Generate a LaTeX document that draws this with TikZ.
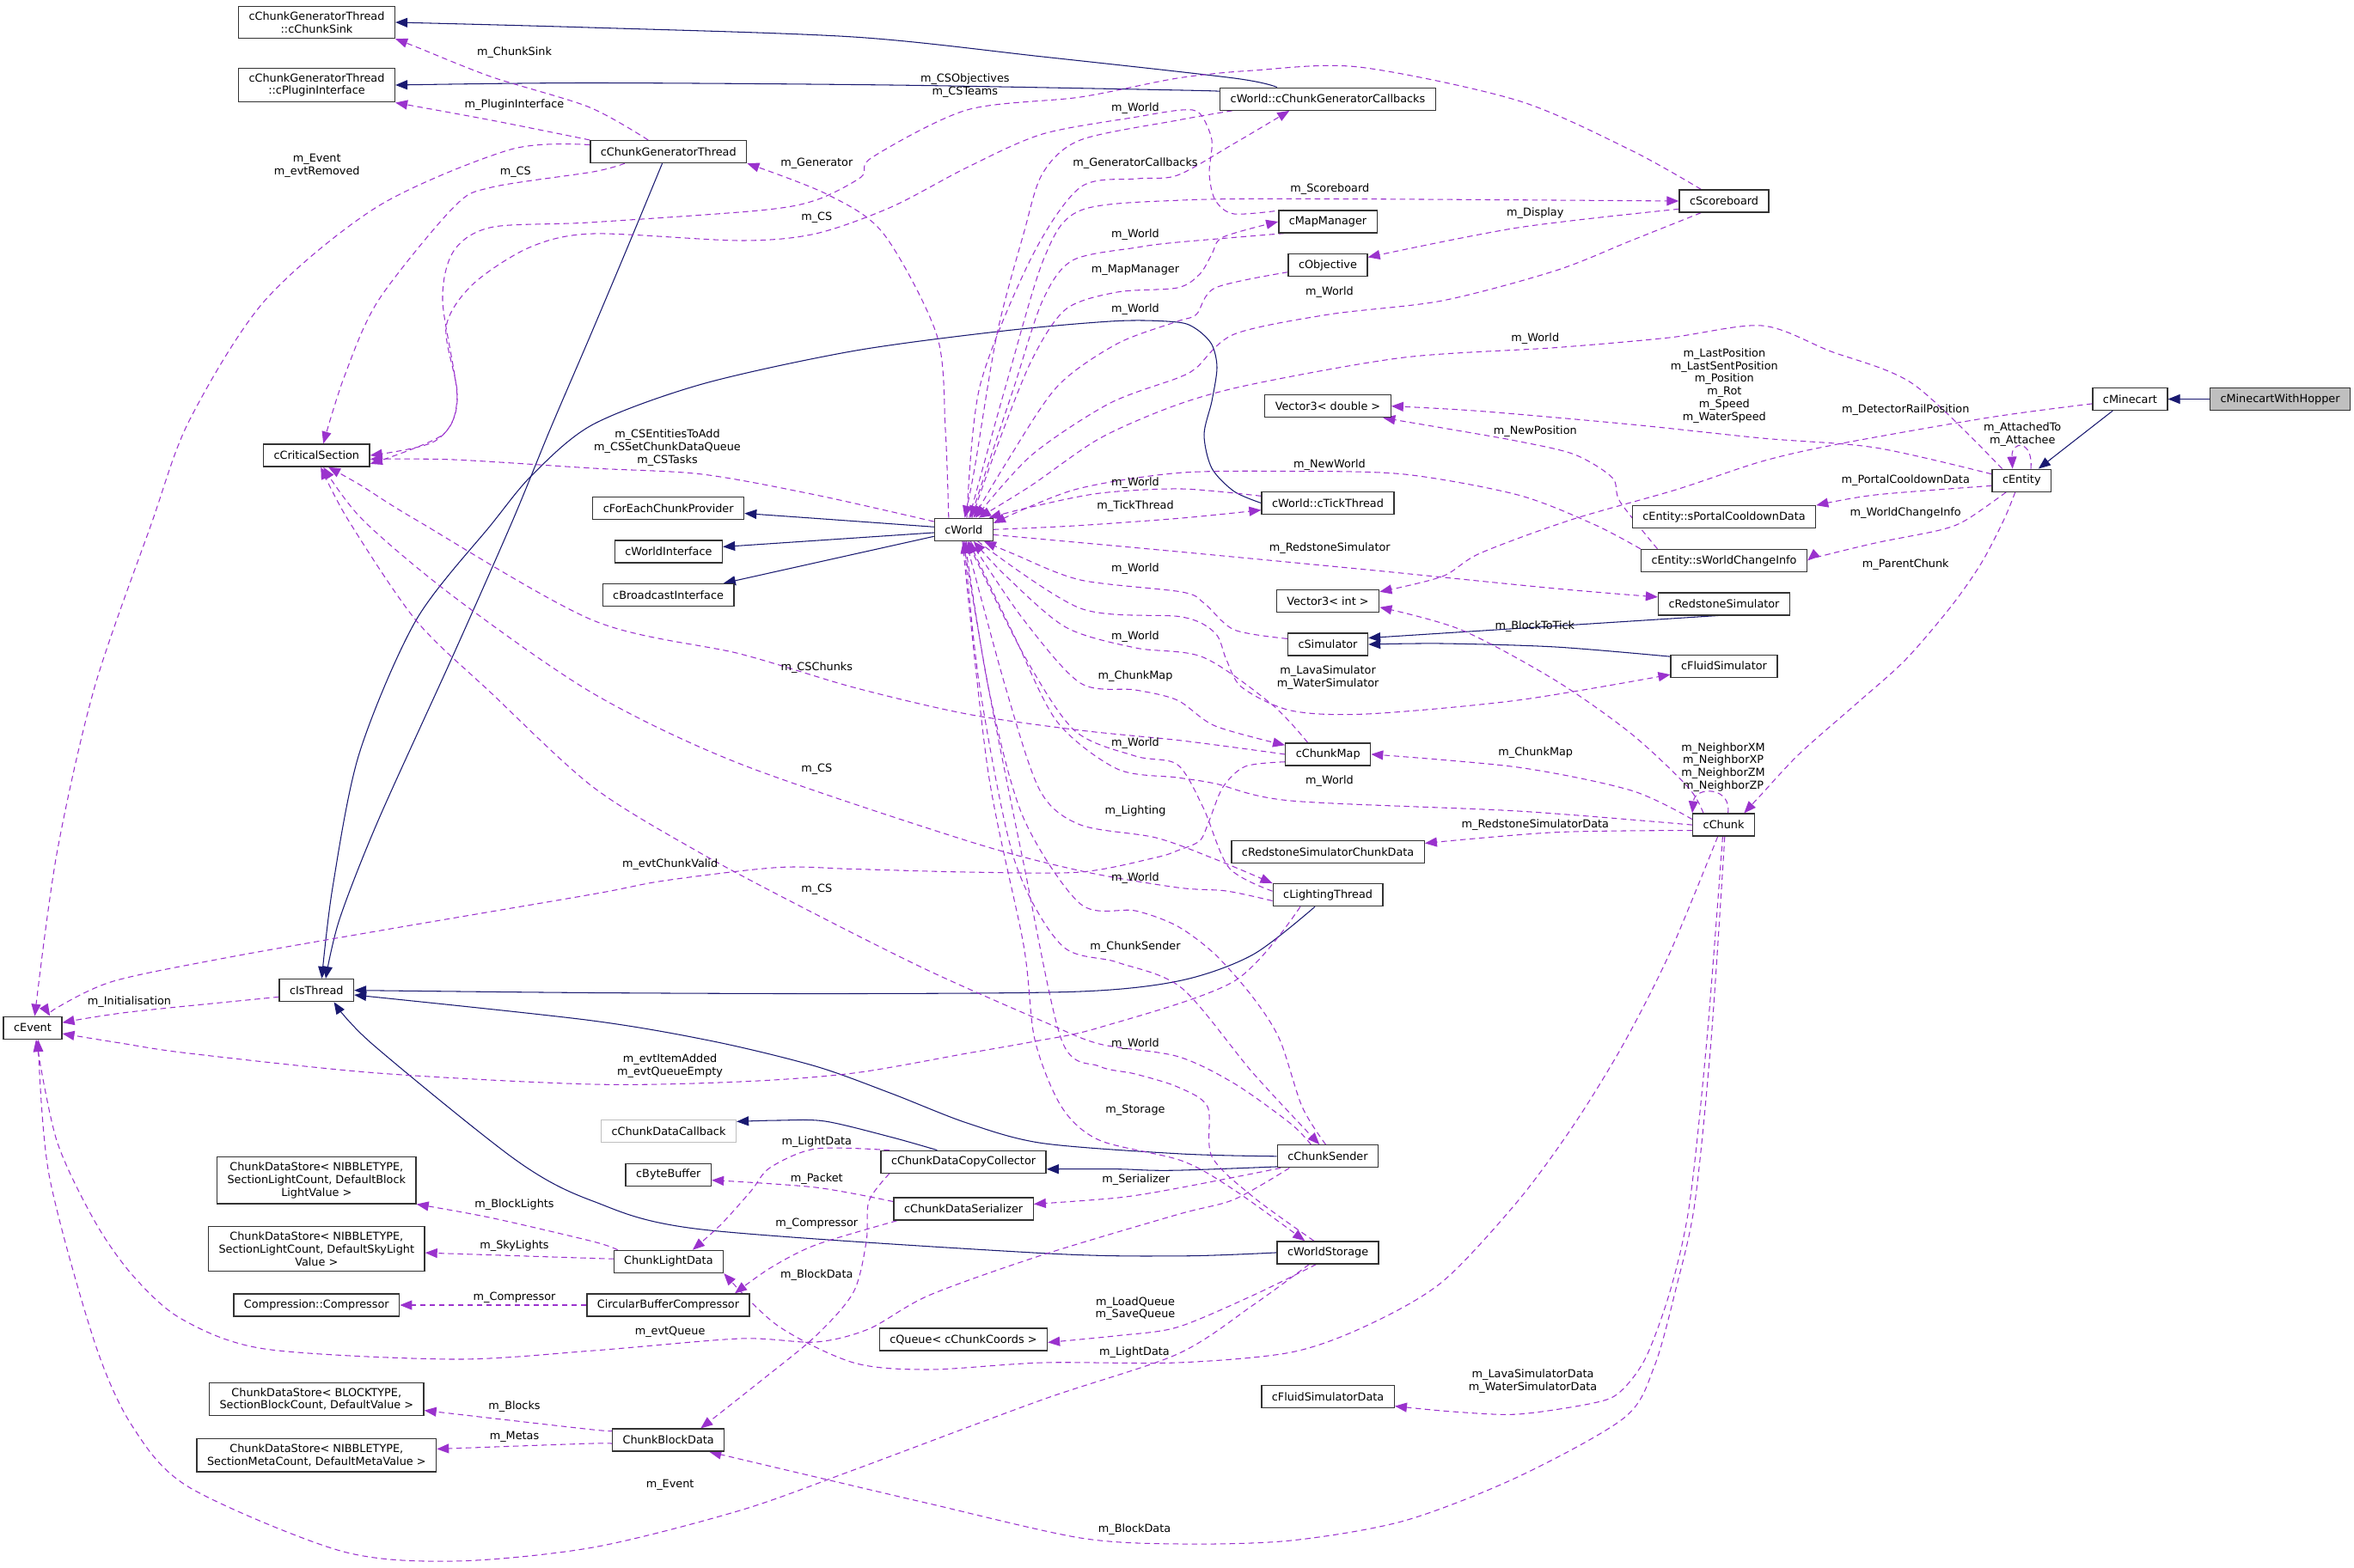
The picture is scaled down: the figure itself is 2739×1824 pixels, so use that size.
\documentclass[tikz,border=0pt]{standalone}
\usepackage{fontspec}
\setmainfont{DejaVu Sans}
\usepackage{tikz}
\usetikzlibrary{arrows.meta, backgrounds}
\definecolor{inheritline}{HTML}{191970}
\definecolor{memberline}{HTML}{9A32CD}
\definecolor{boxline}{HTML}{333333}
\definecolor{focusgray}{HTML}{BFBFBF}
\definecolor{faintline}{HTML}{BFBFBF}
\tikzset{
  cls/.style={
    rectangle, draw=boxline, line width=0.75pt, fill=white,
    align=center, inner xsep=2.4mm, inner ysep=1.25mm, minimum height=5.2mm,
  },
  focus/.style={cls, fill=focusgray},
  extcls/.style={cls, draw=faintline},
  lbl/.style={align=center, inner sep=0pt},
  inherit/.style={draw=inheritline, line width=0.6pt, -{Triangle[length=2.8mm, width=2.2mm]}},
  member/.style={draw=memberline, line width=0.6pt, dash pattern=on 1.3mm off 0.9mm,
    -{Triangle[length=2.8mm, width=2.2mm]}},
}

\begin{document}
\begin{tikzpicture}[x=0.2mm, y=-0.2mm, font=\fontsize{7.3}{8.4}\selectfont]
  \useasboundingbox (0,0) rectangle (2739,1824);

  % classes
  \node[focus] (hopper) at (2653,464.5) {cMinecartWithHopper};
  \node[cls] (minecart) at (2478.4,464.5) {cMinecart};
  \node[cls] (entity) at (2352.3,559.2) {cEntity};
  \node[cls] (sink) at (368.5,26) {cChunkGeneratorThread\\::cChunkSink};
  \node[cls] (plugin) at (368.5,99) {cChunkGeneratorThread\\::cPluginInterface};
  \node[cls] (critsect) at (368.3,530) {cCriticalSection};
  \node[cls] (genthread) at (777.8,176.6) {cChunkGeneratorThread};
  \node[cls] (foreach) at (777.7,591.3) {cForEachChunkProvider};
  \node[cls] (world) at (1121.3,616.3) {cWorld};
  \node[cls] (worldif) at (777.9,642) {cWorldInterface};
  \node[cls] (broadcast) at (777.6,692.5) {cBroadcastInterface};
  \node[cls] (gencb) at (1545,115.2) {cWorld::cChunkGeneratorCallbacks};
  \node[cls] (scoreboard) at (2006,234) {cScoreboard};
  \node[cls] (mapmgr) at (1545,258) {cMapManager};
  \node[cls] (objective) at (1545,308.5) {cObjective};
  \node[cls] (vecd) at (1545,472.7) {Vector3< double >};
  \node[cls] (tickthread) at (1545,585.5) {cWorld::cTickThread};
  \node[cls] (portal) at (2006,601.8) {cEntity::sPortalCooldownData};
  \node[cls] (changeinfo) at (2006,652.5) {cEntity::sWorldChangeInfo};
  \node[cls] (veci) at (1545,699.4) {Vector3< int >};
  \node[cls] (redstone) at (2006,703) {cRedstoneSimulator};
  \node[cls] (simulator) at (1545,750) {cSimulator};
  \node[cls] (fluid) at (2006,775.2) {cFluidSimulator};
  \node[cls] (chunkmap) at (1545.2,877.9) {cChunkMap};
  \node[cls] (chunk) at (2005.6,960.1) {cChunk};
  \node[cls] (rsdata) at (1545.1,991.3) {cRedstoneSimulatorChunkData};
  \node[cls] (lighting) at (1545.1,1041.7) {cLightingThread};
  \node[cls] (isthread) at (368.3,1152.6) {cIsThread};
  \node[cls] (event) at (38,1196.3) {cEvent};
  \node[extcls] (datacb) at (778,1316.5) {cChunkDataCallback};
  \node[cls] (bytebuf) at (777.8,1367.4) {cByteBuffer};
  \node[cls] (copycoll) at (1121.1,1352.3) {cChunkDataCopyCollector};
  \node[cls] (serializer) at (1121.1,1407.1) {cChunkDataSerializer};
  \node[cls] (lightdata) at (777.9,1468.4) {ChunkLightData};
  \node[cls] (circbuf) at (777.5,1519) {CircularBufferCompressor};
  \node[cls] (queue) at (1120.9,1559) {cQueue< cChunkCoords >};
  \node[cls] (blockdata) at (777.7,1676.1) {ChunkBlockData};
  \node[cls] (storeblocklight) at (368.3,1373.7) {ChunkDataStore< NIBBLETYPE,\\ SectionLightCount, DefaultBlock\\LightValue >};
  \node[cls] (storeskylight) at (368.3,1453.7) {ChunkDataStore< NIBBLETYPE,\\ SectionLightCount, DefaultSkyLight\\Value >};
  \node[cls] (compressor) at (368.3,1519) {Compression::Compressor};
  \node[cls] (storeblocks) at (368.3,1628.4) {ChunkDataStore< BLOCKTYPE,\\ SectionBlockCount, DefaultValue >};
  \node[cls] (storemetas) at (368.3,1693.8) {ChunkDataStore< NIBBLETYPE,\\ SectionMetaCount, DefaultMetaValue >};
  \node[cls] (sender) at (1544.9,1345.8) {cChunkSender};
  \node[cls] (storage) at (1545.1,1457.9) {cWorldStorage};
  \node[cls] (fluiddata) at (1545.1,1625.6) {cFluidSimulatorData};

  % member labels
  \node[lbl] (lChunkSink) at (598.5,61.5) {m\_ChunkSink};
  \node[lbl] (lPluginIf) at (598.5,122.5) {m\_PluginInterface};
  \node[lbl] (lGenEvent) at (368.8,193) {m\_Event\\m\_evtRemoved};
  \node[lbl] (lGenCS) at (599.8,200.3) {m\_CS};
  \node[lbl] (lCSObjectives) at (1122.8,99.6) {m\_CSObjectives\\m\_CSTeams};
  \node[lbl] (lWorldGencb) at (1321,126.4) {m\_World};
  \node[lbl] (lGenerator) at (950.3,190.6) {m\_Generator};
  \node[lbl] (lMapCS) at (950.3,252.9) {m\_CS};
  \node[lbl] (lGenCallbacks) at (1321,190) {m\_GeneratorCallbacks};
  \node[lbl] (lScoreboard) at (1547.3,220.6) {m\_Scoreboard};
  \node[lbl] (lWorldMap) at (1321,273.5) {m\_World};
  \node[lbl] (lMapManager) at (1321,314.3) {m\_MapManager};
  \node[lbl] (lDisplay) at (1786.3,248.2) {m\_Display};
  \node[lbl] (lWorldScore) at (1547,340.4) {m\_World};
  \node[lbl] (lWorldObj) at (1321,360.2) {m\_World};
  \node[lbl] (lWorldEntity) at (1786.3,393.7) {m\_World};
  \node[lbl] (lPositions) at (2006.3,449) {m\_LastPosition\\m\_LastSentPosition\\m\_Position\\m\_Rot\\m\_Speed\\m\_WaterSpeed};
  \node[lbl] (lDetector) at (2217.2,477.3) {m\_DetectorRailPosition};
  \node[lbl] (lAttached) at (2353.2,505.7) {m\_AttachedTo\\m\_Attachee};
  \node[lbl] (lNewPosition) at (1786.3,502.6) {m\_NewPosition};
  \node[lbl] (lWorldCS) at (776.5,521.3) {m\_CSEntitiesToAdd\\m\_CSSetChunkDataQueue\\m\_CSTasks};
  \node[lbl] (lNewWorld) at (1547,540.8) {m\_NewWorld};
  \node[lbl] (lWorldTick) at (1321,562.2) {m\_World};
  \node[lbl] (lPortal) at (2217.2,558.7) {m\_PortalCooldownData};
  \node[lbl] (lTickThread) at (1321,589.4) {m\_TickThread};
  \node[lbl] (lChangeInfo) at (2217.2,597.2) {m\_WorldChangeInfo};
  \node[lbl] (lRedstone) at (1547.3,638.5) {m\_RedstoneSimulator};
  \node[lbl] (lParentChunk) at (2217.2,657.5) {m\_ParentChunk};
  \node[lbl] (lWorldSim) at (1321,662.2) {m\_World};
  \node[lbl] (lBlockToTick) at (1785.8,729.5) {m\_BlockToTick};
  \node[lbl] (lWorldChunkMap) at (1321,741.2) {m\_World};
  \node[lbl] (lCSChunks) at (950.3,777.3) {m\_CSChunks};
  \node[lbl] (lChunkMapW) at (1321,786.7) {m\_ChunkMap};
  \node[lbl] (lFluidSims) at (1545.1,789) {m\_LavaSimulator\\m\_WaterSimulator};
  \node[lbl] (lChunkMapC) at (1786.7,876.5) {m\_ChunkMap};
  \node[lbl] (lWorldLight) at (1321,864.9) {m\_World};
  \node[lbl] (lNeighbors) at (2005,893) {m\_NeighborXM\\m\_NeighborXP\\m\_NeighborZM\\m\_NeighborZP};
  \node[lbl] (lLightCS) at (950.3,894.8) {m\_CS};
  \node[lbl] (lWorldChunk) at (1547,909.2) {m\_World};
  \node[lbl] (lLighting) at (1321,944.6) {m\_Lighting};
  \node[lbl] (lRsData) at (1786.3,960.2) {m\_RedstoneSimulatorData};
  \node[lbl] (lChunkValid) at (779.6,1006.1) {m\_evtChunkValid};
  \node[lbl] (lWorldSender) at (1321,1022.4) {m\_World};
  \node[lbl] (lSenderCS) at (950.3,1034.9) {m\_CS};
  \node[lbl] (lChunkSender) at (1321,1101.8) {m\_ChunkSender};
  \node[lbl] (lInit) at (150.5,1166.4) {m\_Initialisation};
  \node[lbl] (lWorldStorage) at (1321,1214.7) {m\_World};
  \node[lbl] (lItemAdded) at (779.6,1240.9) {m\_evtItemAdded\\m\_evtQueueEmpty};
  \node[lbl] (lStorage) at (1321,1292.6) {m\_Storage};
  \node[lbl] (lLightDataC) at (950.3,1329.4) {m\_LightData};
  \node[lbl] (lPacket) at (950.3,1372.1) {m\_Packet};
  \node[lbl] (lSerializer) at (1321.7,1373.3) {m\_Serializer};
  \node[lbl] (lBlockLights) at (598.5,1402.2) {m\_BlockLights};
  \node[lbl] (lCompressorS) at (950.3,1424.6) {m\_Compressor};
  \node[lbl] (lSkyLights) at (598.5,1450.4) {m\_SkyLights};
  \node[lbl] (lBlockDataC) at (950.3,1484.5) {m\_BlockData};
  \node[lbl] (lCompressorB) at (598.5,1510.7) {m\_Compressor};
  \node[lbl] (lQueues) at (1321,1523.2) {m\_LoadQueue\\m\_SaveQueue};
  \node[lbl] (lEvtQueue) at (779.6,1550.3) {m\_evtQueue};
  \node[lbl] (lLightDataK) at (1320,1574.5) {m\_LightData};
  \node[lbl] (lFluidData) at (1783.6,1607.4) {m\_LavaSimulatorData\\m\_WaterSimulatorData};
  \node[lbl] (lBlocks) at (598.5,1637.2) {m\_Blocks};
  \node[lbl] (lMetas) at (598.5,1672.4) {m\_Metas};
  \node[lbl] (lStorageEvent) at (779.6,1728.4) {m\_Event};
  \node[lbl] (lBlockDataK) at (1320,1780.5) {m\_BlockData};

  \begin{scope}[on background layer]
  % inheritance
  \draw[inherit] (hopper.west) -- (minecart.east);
  \draw[inherit] (minecart.214) -- (entity.35);
  \draw[inherit] plot[smooth] coordinates {(gencb.167) (1436,91) (1213,66) (993,43) (685,32) (sink.east)};
  \draw[inherit] plot[smooth] coordinates {(gencb.176) (1375,105) (1037,99) (685,96.5) (plugin.east)};
  \draw[inherit] plot[smooth] coordinates {(genthread.242) (728,293) (685,395) (640,500) (596,607) (528,761) (440,955) (395,1070) (isthread.52)};
  \draw[inherit] plot[smooth] coordinates {(tickthread.west) (1436,572) (1410,545) (1401,506) (1410,467) (1416,428) (1410,401) (1392,383) (1370,375) (1301,373.5) (1169,385) (993,408.5) (817,447) (690,494) (620,552) (572,610) (484,722) (418,877) (387,1033) (isthread.66)};
  \draw[inherit] plot[smooth] coordinates {(world.175) (958,604) (foreach.356)};
  \draw[inherit] (world.186) -- (worldif.5);
  \draw[inherit] (world.193) -- (broadcast.12);
  \draw[inherit] (redstone.354) -- (simulator.9);
  \draw[inherit] plot[smooth] coordinates {(fluid.170) (1810,753) (1678,749) (simulator.east)};
  \draw[inherit] plot[smooth] coordinates {(lighting.222) (1458,1111) (1375,1141) (1257,1154) (993,1156.5) (690,1155.5) (isthread.east)};
  \draw[inherit] plot[smooth] coordinates {(sender.west) (1375,1343) (1213,1330.6) (1125,1307) (1037,1272.6) (949,1241) (830,1212) (685,1187.4) (isthread.353)};
  \draw[inherit] plot[smooth] coordinates {(sender.353) (1375,1362) (1301,1360.7) (copycoll.355)};
  \draw[inherit] plot[smooth] coordinates {(copycoll.156) (1037,1323.5) (960,1305) (905,1304) (datacb.8)};
  \draw[inherit] plot[smooth] coordinates {(storage.west) (1375,1461.8) (1213,1458.6) (817,1431) (690,1398) (600,1350) (433,1215) (isthread.326)};

  % members
  \draw[member] plot[smooth] coordinates {(genthread.150) (685,124.5) (572,89.5) (484,54.5) (sink.south east)};
  \draw[member] plot[smooth] coordinates {(genthread.north west) (572,140) (plugin.south east)};
  \draw[member] plot[smooth] coordinates {(genthread.175) (594,174) (440,240) (308,350) (220,490) (176,610) (110,800) (66,994) (event.80)};
  \draw[member] plot[smooth] coordinates {(genthread.195) (690,200) (572,218) (528,241) (440,350) (400,440) (critsect.60)};
  \draw[member] plot[smooth] coordinates {(world.142) (1100,500) (1090,390) (1028,272) (962,226) (genthread.south east)};
  \draw[member] plot[smooth] coordinates {(gencb.187) (1370,140) (1257,163) (1213,202) (1191,272) (1160,389) (1134,545) (world.85)};
  \draw[member] plot[smooth] coordinates {(world.75) (1140,450) (1200,300) (1257,218) (1323,208) (1370,204) (1436,167) (gencb.197)};
  \draw[member] plot[smooth] coordinates {(scoreboard.153) (1898,175) (1766,117) (1581,78) (1458,82) (1370,91) (1257,113) (1125,128) (1015,183) (1002,206) (949,233) (883,245) (685,259) (572,264.5) (528,292) (515,350) (532,467) (506,513.5) (critsect.east)};
  \draw[member] plot[smooth] coordinates {(mapmgr.165) (1436,249) (1414,233) (1407,202) (1410,163) (1396,132) (1375,128) (1323,136) (1213,156) (1125,195) (1037,241) (949,272) (861,280) (690,272) (616,288) (550,331) (519,381) (532,459) (515,506) (critsect.351)};
  \draw[member] plot[smooth] coordinates {(mapmgr.195) (1370,282) (1323,288) (1248,303) (1213,350) (1180,450) (1150,540) (world.60)};
  \draw[member] plot[smooth] coordinates {(world.55) (1160,520) (1200,420) (1240,360) (1300,340) (1370,335) (1396,319) (1410,296) (1423,276) (mapmgr.west)};
  \draw[member] plot[smooth] coordinates {(world.65) (1170,450) (1215,300) (1257,245) (1375,233) (1546,231.5) (scoreboard.west)};
  \draw[member] plot[smooth] coordinates {(scoreboard.190) (1766,265) (objective.11)};
  \draw[member] plot[smooth] coordinates {(scoreboard.207) (1898,280) (1810,315) (1678,350) (1546,366) (1436,389) (1392,428) (1370,440) (1290,470) (1200,530) (world.45)};
  \draw[member] plot[smooth] coordinates {(objective.190) (1414,335) (1392,366) (1370,374) (1300,400) (1230,450) (1170,540) (world.50)};
  \draw[member] plot[smooth] coordinates {(entity.149) (2226,447) (2129,408.5) (2050,379) (1942,393) (1810,404.6) (1634,416) (1458,447) (1370,471) (1280,510) (1200,565) (world.38)};
  \draw[member] plot[smooth] coordinates {(entity.168) (2182,521) (2050,510) (1898,494) (1722,478.5) (vecd.east)};
  \draw[member] (entity.52) .. controls (2366,512) and (2340,512) .. (entity.128);
  \draw[member] plot[smooth] coordinates {(entity.190) (2182,576) (portal.north east)};
  \draw[member] plot[smooth] coordinates {(entity.217) (2288,605) (2257,617) (2182,632) (2116,648) (changeinfo.east)};
  \draw[member] plot[smooth] coordinates {(entity.241) (2331.6,605) (2305,656) (2270,706) (2217,768) (2160,819) (2094,877) (2050,924) (chunk.30)};
  \draw[member] plot[smooth] coordinates {(minecart.187) (2314,486) (2138,517) (2050,537) (1950,570) (1828,605) (1722,644) (1678,671) (veci.10)};
  \draw[member] plot[smooth] coordinates {(changeinfo.170) (1885,584) (1876,556) (1832,529) (1766,513.5) (1678,498) (vecd.348)};
  \draw[member] plot[smooth] coordinates {(changeinfo.172) (1854,610) (1766,576) (1634,552) (1502,548.5) (1370,550.5) (1250,570) (world.12)};
  \draw[member] plot[smooth] coordinates {(tickthread.174) (1375,569) (1280,574) (1200,590) (world.25)};
  \draw[member] plot[smooth] coordinates {(world.east) (1250,612) (1375,603) (tickthread.186)};
  \draw[member] plot[smooth] coordinates {(world.350) (1370,642) (1590,663) (1810,685) (redstone.174)};
  \draw[member] plot[smooth] coordinates {(simulator.172) (1436,733) (1401,702) (1375,689) (1257,675) (1180,645) (world.330)};
  \draw[member] plot[smooth] coordinates {(world.320) (1257,708) (1375,718) (1414,737) (1427,768) (1445,800) (1502,827) (1590,831) (1766,815) (fluid.189)};
  \draw[member] plot[smooth] coordinates {(world.300) (1190,720) (1257,795) (1321,803) (1370,815) (1414,845) (chunkmap.168)};
  \draw[member] plot[smooth] coordinates {(chunkmap.150) (1480,820) (1400,765) (1321,754) (1240,730) (1170,670) (world.310)};
  \draw[member] plot[smooth] coordinates {(chunk.180) (1766,944) (1502,932) (1414,912) (1370,905) (1300,895) (1230,840) (1180,740) (world.293)};
  \draw[member] plot[smooth] coordinates {(lighting.176) (1430,1010) (1400,940) (1370,890) (1321,880) (1250,850) (1190,760) (world.287)};
  \draw[member] plot[smooth] coordinates {(world.281) (1170,800) (1210,920) (1257,960) (1345,975) (1414,1000) (lighting.north west)};
  \draw[member] plot[smooth] coordinates {(sender.100) (1515,1288) (1489,1210) (1458,1161) (1414,1111) (1370,1078) (1321,1060) (1257,1052) (1190,950) (1150,800) (world.276)};
  \draw[member] plot[smooth] coordinates {(world.272) (1140,800) (1180,1000) (1235,1100) (1300,1120) (1375,1150) (1458,1249) (sender.125)};
  \draw[member] plot[smooth] coordinates {(storage.140) (1458,1393) (1410,1346) (1405,1288) (1370,1265) (1321,1250) (1279,1241) (1235,1210) (1190,1000) (1150,800) (world.268)};
  \draw[member] plot[smooth] coordinates {(world.264) (1150,900) (1191,1100) (1204,1210) (1235,1288) (1279,1327) (1375,1351) (1436,1385) (storage.153)};
  \draw[member] plot[smooth] coordinates {(world.165) (949,576) (817,552) (690,545) (528,535) (critsect.356)};
  \draw[member] plot[smooth] coordinates {(chunkmap.west) (1375,862) (1257,850) (1125,831) (993,800) (861,761) (690,722) (484,605) (420,565) (critsect.315)};
  \draw[member] plot[smooth] coordinates {(lighting.186) (1427,1037) (1370,1033) (1257,1013.5) (1125,978.5) (861,889) (690,807) (528,694.5) (422,605) (critsect.300)};
  \draw[member] plot[smooth] coordinates {(sender.145) (1502,1308) (1436,1261) (1370,1229.5) (1279,1215) (1213,1188.5) (1081,1130) (949,1064) (817,994) (690,916) (572,807) (484,722) (405,605) (critsect.290)};
  \draw[member] plot[smooth] coordinates {(chunkmap.190) (1449,892) (1423,916) (1407,955) (1396,978.5) (1370,990) (1345,998) (1257,1015) (1125,1015) (993,1011.5) (905,1009.6) (773,1025) (690,1040.7) (440,1083.5) (264,1114.6) (132,1142) (66,1173) (event.34)};
  \draw[member] plot[smooth] coordinates {(isthread.190) (150,1178) (event.10)};
  \draw[member] plot[smooth] coordinates {(lighting.203) (1436,1142) (1279,1196) (1204,1212) (1125,1226) (993,1249) (861,1259) (690,1262) (440,1249) (220,1226) (140,1214) (event.349)};
  \draw[member] plot[smooth] coordinates {(sender.197) (1436,1396) (1370,1413.6) (1213,1460.6) (1081,1507.6) (1011,1546.7) (949,1562) (861,1558) (690,1572) (528,1582) (308,1570) (211,1535) (154,1484) (110,1421) (66,1327.5) (event.286)};
  \draw[member] plot[smooth] coordinates {(storage.212) (1458,1519) (1370,1576) (1213,1629) (993,1711) (861,1758) (690,1801) (528,1817) (396,1805) (220,1731) (154,1660) (110,1562) (57,1367) (event.295)};
  \draw[member] plot[smooth] coordinates {(storage.225) (1458,1507.6) (1370,1544.7) (1301,1554.5) (queue.358)};
  \draw[member] plot[smooth] coordinates {(copycoll.171) (949,1337) (896,1359) (874,1386) (839,1425) (lightdata.26)};
  \draw[member] plot[smooth] coordinates {(copycoll.189) (1011,1398) (1008,1445) (993,1504) (949,1555) (883,1609) (blockdata.20)};
  \draw[member] plot[smooth] coordinates {(serializer.174) (949,1382) (bytebuf.353)};
  \draw[member] plot[smooth] coordinates {(serializer.190) (949,1449) (896,1476) (circbuf.10)};
  \draw[member] plot[smooth] coordinates {(sender.194) (1370,1383) (1301,1394) (serializer.4)};
  \draw[member] (circbuf.west) -- (compressor.east);
  \draw[member] plot[smooth] coordinates {(lightdata.167) (690,1445) (572,1417.5) (storeblocklight.south east)};
  \draw[member] plot[smooth] coordinates {(lightdata.177) (690,1464.5) (storeskylight.358)};
  \draw[member] plot[smooth] coordinates {(blockdata.170) (690,1664) (storeblocks.354)};
  \draw[member] plot[smooth] coordinates {(blockdata.184) (690,1680) (storemetas.3)};
  \draw[member] plot[smooth] coordinates {(chunk.243) (1942,1111) (1889,1215) (1832,1308) (1766,1398) (1678,1492) (1590,1543) (1502,1574) (1370,1586) (1213,1586) (1081,1594) (993,1586) (905,1543) (lightdata.south east)};
  \draw[member] plot[smooth] coordinates {(chunk.275) (1991,1210) (1972,1400) (1950,1500) (1925,1590) (1890,1650) (1766,1719) (1634,1770) (1502,1793) (1375,1797) (1257,1790) (1081,1750) (949,1719) (blockdata.344)};
  \draw[member] plot[smooth] coordinates {(chunk.265) (1986,1210) (1966,1400) (1944,1500) (1915,1580) (1885,1620) (1854,1633) (1766,1646) (1690,1643) (fluiddata.352)};
  \draw[member] plot[smooth] coordinates {(chunk.170) (1898,920) (1766,893) (chunkmap.east)};
  \draw[member] plot[smooth] coordinates {(chunk.190) (1810,968.7) (rsdata.5)};
  \draw[member] (chunk.70) .. controls (2015,915) and (1972,915) .. (chunk.north west);
  \draw[member] plot[smooth] coordinates {(chunk.150) (1964,916) (1898,854) (1810,792) (1700,733) (veci.353)};
  \end{scope}

\end{tikzpicture}
\end{document}
